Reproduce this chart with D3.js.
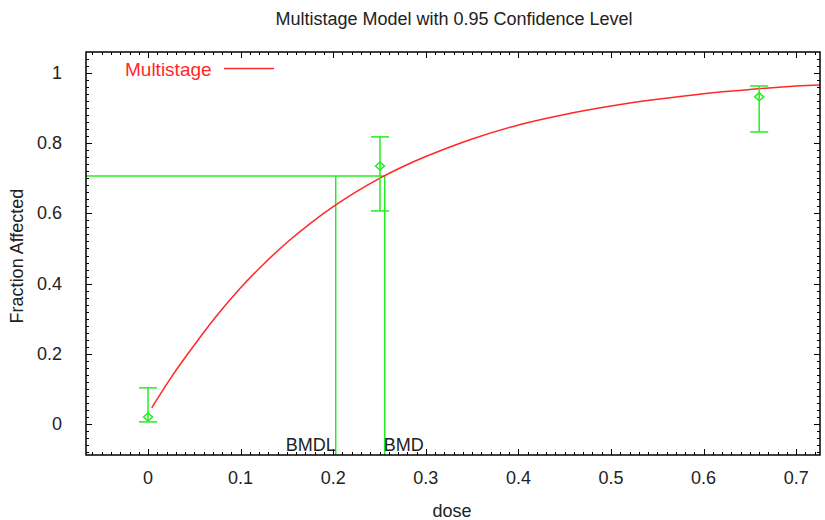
<!DOCTYPE html>
<html><head><meta charset="utf-8">
<script src="https://cdn.jsdelivr.net/npm/d3@7"></script>
<style>body{margin:0;background:#fff}svg{display:block}text{font-family:"Liberation Sans",Arial,sans-serif}</style>
</head><body><svg id="c" width="825" height="520"></svg>
<script>
const title = "Multistage Model with 0.95 Confidence Level";
const xLabel = "dose";
const yLabel = "Fraction Affected";
const legendLabel = "Multistage";
// observed data
const obsDose  = [0, 0.2505, 0.66];
const obsMean  = [0.02, 0.735, 0.932];
const obsLower = [0.006, 0.607, 0.832];
const obsUpper = [0.103, 0.818, 0.963];
// fitted curve
const curveDose = [0.004,0.025,0.05,0.075,0.1,0.125,0.15,0.175,0.2,0.225,0.25,0.275,0.3,0.35,0.4,0.45,0.5,0.55,0.6,0.65,0.7,0.7257];
const curveResp = [0.046,0.133,0.225,0.311,0.388,0.456,0.517,0.571,0.619,0.662,0.700,0.733,0.762,0.812,0.852,0.882,0.906,0.925,0.941,0.953,0.963,0.966];
const bmrLevel = 0.7066;
const bmd = 0.2556, bmdl = 0.2027;
const xTicks = [0,0.1,0.2,0.3,0.4,0.5,0.6,0.7];
const yTicks = [0,0.2,0.4,0.6,0.8,1];

const svg = d3.select("#c");
const L=86,R=820,T=52,B=455;
const x = d3.scaleLinear().domain([-0.0670,0.7257]).range([L,R]);
const y = d3.scaleLinear().domain([-0.0883,1.0598]).range([B,T]);
const green="#22ee22", red="#ff2828", ink="#222";

// minor ticks
const xMinor = d3.range(-6,73).map(i=>i/100);
const yMinor = d3.range(-4,53).map(i=>i/50);
const g = svg.append("g");
function ticksH(vals, major){
  vals.forEach(v=>{
    const px=Math.round(x(v))+0.5, len = major?6:3;
    g.append("line").attr("x1",px).attr("x2",px).attr("y1",B).attr("y2",B-len).attr("stroke","#000");
    g.append("line").attr("x1",px).attr("x2",px).attr("y1",T).attr("y2",T+len).attr("stroke","#000");
  });
}
function ticksV(vals, major){
  vals.forEach(v=>{
    const py=Math.round(y(v))+0.5, len = major?6:3;
    g.append("line").attr("y1",py).attr("y2",py).attr("x1",L).attr("x2",L+len).attr("stroke","#000");
    g.append("line").attr("y1",py).attr("y2",py).attr("x1",R).attr("x2",R-len).attr("stroke","#000");
  });
}
ticksH(xMinor.filter(v=>x(v)>L+1&&x(v)<R-1), false);
ticksH(xTicks, true);
ticksV(yMinor.filter(v=>y(v)>T+1&&y(v)<B-1), false);
ticksV(yTicks, true);

// tick labels
xTicks.forEach(v=>svg.append("text").attr("x",x(v)).attr("y",B+29).attr("text-anchor","middle")
  .attr("font-size",18).attr("fill",ink).text(d3.format("")(v)));
yTicks.forEach(v=>svg.append("text").attr("x",L-24).attr("y",y(v)+6).attr("text-anchor","end")
  .attr("font-size",18).attr("fill",ink).text(d3.format("")(v)));

// BMD lines
svg.append("line").attr("x1",L).attr("x2",x(bmd)).attr("y1",y(bmrLevel)).attr("y2",y(bmrLevel)).attr("stroke",green).attr("stroke-width",1.5);
svg.append("line").attr("x1",x(bmd)).attr("x2",x(bmd)).attr("y1",y(bmrLevel)).attr("y2",B).attr("stroke",green).attr("stroke-width",1.5);
svg.append("line").attr("x1",x(bmdl)).attr("x2",x(bmdl)).attr("y1",y(bmrLevel)).attr("y2",B).attr("stroke",green).attr("stroke-width",1.5);
svg.append("text").attr("x",x(bmdl)).attr("y",B-4).attr("text-anchor","end").attr("font-size",18).attr("fill",ink).text("BMDL");
svg.append("text").attr("x",x(bmd)-1).attr("y",B-4).attr("font-size",18).attr("fill",ink).text("BMD");

// curve
const line = d3.line().x((d,i)=>x(curveDose[i])).y(d=>y(d)).curve(d3.curveCatmullRom);
svg.append("path").attr("d",line(curveResp)).attr("fill","none").attr("stroke",red).attr("stroke-width",1.5);

// error bars
obsDose.forEach((d,i)=>{
  const cx=x(d);
  const eb=svg.append("g").attr("stroke",green).attr("stroke-width",1.5).attr("fill","none");
  eb.append("line").attr("x1",cx).attr("x2",cx).attr("y1",y(obsLower[i])).attr("y2",y(obsUpper[i]));
  eb.append("line").attr("x1",cx-9).attr("x2",cx+9).attr("y1",y(obsLower[i])).attr("y2",y(obsLower[i]));
  eb.append("line").attr("x1",cx-9).attr("x2",cx+9).attr("y1",y(obsUpper[i])).attr("y2",y(obsUpper[i]));
  const cy=y(obsMean[i]);
  eb.append("path").attr("d",`M${cx-4.5},${cy}L${cx},${cy-4}L${cx+4.5},${cy}L${cx},${cy+4}Z`);
});

// frame
svg.append("rect").attr("x",L).attr("y",T).attr("width",R-L).attr("height",B-T).attr("fill","none").attr("stroke","#000").attr("stroke-width",1.5);

// legend
svg.append("text").attr("x",125).attr("y",76).attr("font-size",19).attr("fill",red).text(legendLabel);
svg.append("line").attr("x1",224).attr("x2",274).attr("y1",68.5).attr("y2",68.5).attr("stroke",red).attr("stroke-width",1.5);

// titles
svg.append("text").attr("x",454).attr("y",25).attr("text-anchor","middle").attr("font-size",18).attr("fill",ink).text(title);
svg.append("text").attr("x",452).attr("y",517).attr("text-anchor","middle").attr("font-size",18).attr("fill",ink).text(xLabel);
svg.append("text").attr("transform","translate(23,256) rotate(-90)").attr("text-anchor","middle").attr("font-size",18).attr("fill",ink).text(yLabel);
</script></body></html>
